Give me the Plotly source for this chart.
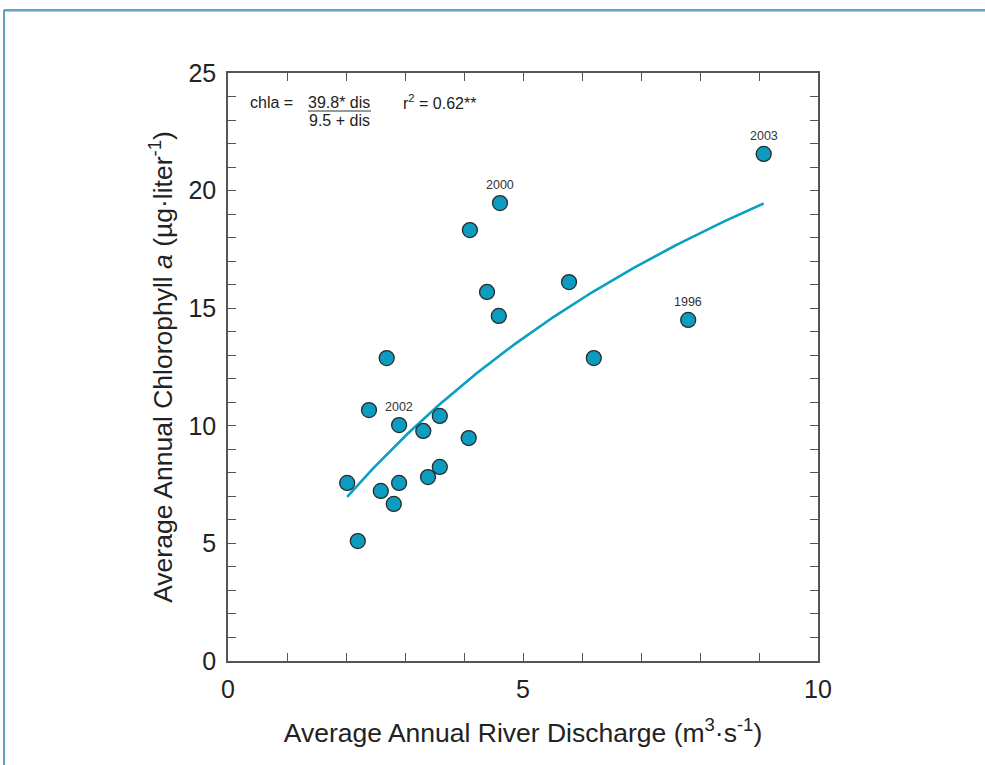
import numpy as np
import plotly.graph_objects as go

# Data
discharge = [2.02, 2.20, 2.39, 2.59, 2.69, 2.81, 2.90, 2.90, 3.31, 3.39, 3.59, 3.59,
             4.08, 4.10, 4.39, 4.61, 4.59, 5.78, 6.20, 7.80, 9.08]
chla = [7.57, 5.10, 10.67, 7.23, 12.88, 6.68, 7.57, 10.03, 9.78, 7.82, 8.25, 10.42,
        9.48, 18.32, 15.69, 19.47, 14.67, 16.11, 12.88, 14.50, 21.56]
labeled_years = ["2002", "2000", "1996", "2003"]
labeled_x = [2.90, 4.61, 7.80, 9.08]
labeled_y = [10.03, 19.47, 14.50, 21.56]

# Fitted model shown on the chart: chla = 39.8*dis/(9.5+dis)
fit_a = 39.8
fit_b = 9.5
fit_x = np.linspace(min(discharge), max(discharge), 100)
fit_y = fit_a * fit_x / (fit_b + fit_x)

FONT = "Liberation Sans, Arial, sans-serif"
teal = "#0b9cbf"

fig = go.Figure()
fig.add_trace(go.Scatter(x=fit_x, y=fit_y, mode="lines",
                         line=dict(color="#0aa0c2", width=2.6), hoverinfo="skip",
                         showlegend=False))
fig.add_trace(go.Scatter(x=discharge, y=chla, mode="markers",
                         marker=dict(size=15, color=teal,
                                     line=dict(color="#2a2a2a", width=1.3)),
                         showlegend=False))
for yr, lx, ly in zip(labeled_years, labeled_x, labeled_y):
    fig.add_annotation(x=lx, y=ly, text=yr, showarrow=False, yanchor="bottom",
                       yshift=9, font=dict(size=12.5, color="#333333", family=FONT))

axis_common = dict(showgrid=False, zeroline=False, showline=True, linecolor="#555555",
                   linewidth=1.5, mirror="ticks", ticks="inside", ticklen=8,
                   tickwidth=1.2, tickcolor="#555555", ticklabelstandoff=5,
                   minor=dict(dtick=1, ticks="inside", ticklen=8, tickwidth=1.2,
                              tickcolor="#555555", showgrid=False),
                   tickfont=dict(size=25, color="#222222", family=FONT))

fig.update_xaxes(range=[0, 10], tick0=0, dtick=5,
                 title=dict(text="Average Annual River Discharge (m<sup>3</sup>·s<sup>-1</sup>)",
                            font=dict(size=26.5, color="#222222", family=FONT), standoff=22),
                 **axis_common)
fig.update_yaxes(range=[0, 25], tick0=0, dtick=5,
                 title=dict(text="Average Annual Chlorophyll <i>a</i> (µg·liter<sup>-1</sup>)",
                            font=dict(size=26.5, color="#222222", family=FONT), standoff=8),
                 **axis_common)

def px_x(px):
    return (px - 228) / 590.0

def px_y(py):
    return (661 - py) / 588.0

annots = [
    dict(x=px_x(248), y=px_y(103), text="chla =", xanchor="left"),
    dict(x=px_x(339), y=px_y(102), text="39.8* dis", xanchor="center"),
    dict(x=px_x(339), y=px_y(121), text="9.5 + dis", xanchor="center"),
    dict(x=px_x(401), y=px_y(102), text="r<sup>2</sup> = 0.62**", xanchor="left"),
]
for a in annots:
    fig.add_annotation(xref="paper", yref="paper", x=a["x"], y=a["y"], text=a["text"],
                       xanchor=a["xanchor"], yanchor="middle", showarrow=False,
                       font=dict(size=16, color="#222222", family=FONT))

shapes = [
    dict(type="line", xref="paper", yref="paper", x0=px_x(308), x1=px_x(371),
         y0=px_y(111), y1=px_y(111), line=dict(color="#333333", width=1)),
    # outer frame lines (top and left)
    dict(type="line", xref="paper", yref="paper", x0=px_x(4), x1=px_x(990),
         y0=px_y(10), y1=px_y(10), line=dict(color="#2e87a8", width=1.5)),
    dict(type="line", xref="paper", yref="paper", x0=px_x(4), x1=px_x(990),
         y0=px_y(11.5), y1=px_y(11.5), line=dict(color="#a9d3e3", width=1)),
    dict(type="line", xref="paper", yref="paper", x0=px_x(4), x1=px_x(4),
         y0=px_y(10), y1=px_y(770), line=dict(color="#2e87a8", width=1.5)),
]
fig.update_layout(shapes=shapes, width=985, height=765,
                  margin=dict(l=228, r=167, t=73, b=104),
                  paper_bgcolor="white", plot_bgcolor="white",
                  font=dict(family=FONT))

fig.write_html("out.html", config={"displayModeBar": False},
               post_script="document.body.style.margin='0';document.body.style.overflow='hidden';")
